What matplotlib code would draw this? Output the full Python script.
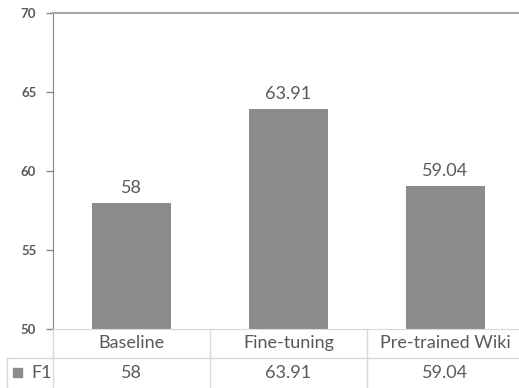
import numpy as np
import matplotlib
matplotlib.use('Agg')
import matplotlib.pyplot as plt
from matplotlib.patches import Rectangle
from matplotlib.transforms import blended_transform_factory

# 数据
categories = ['Baseline', 'Fine-tuning', 'Pre-trained Wiki']
f1_values = [58, 63.91, 59.04]
f1_labels = ['58', '63.91', '59.04']
series_name = 'F1'
y_ticks = [50, 55, 60, 65, 70]

plt.rcParams['font.family'] = ['Lato', 'DejaVu Sans']
text_color = '#595959'
bar_color = '#8c8c8c'
line_color = '#d9d9d9'

W, H = 519, 388
fig = plt.figure(figsize=(W / 100, H / 100), dpi=100)
# 坐标区: 左 53px, 顶 13px, 底 329px, 每类 157px
ax = fig.add_axes([53 / W, (H - 329) / H, 471 / W, 316 / H])

x = np.arange(len(categories))
ax.bar(x, f1_values, width=0.5, color=bar_color)
ax.set_xlim(-0.5, len(categories) - 0.5)
ax.set_ylim(50, 70)

# 数据标签
for xi, v, lab in zip(x, f1_values, f1_labels):
    ax.annotate(lab, (xi, v), xytext=(0, 5), textcoords='offset points',
                ha='center', va='bottom', fontsize=13, color=text_color)

# 坐标轴样式
ax.set_yticks(y_ticks)
ax.set_yticklabels([str(t) for t in y_ticks], fontsize=9.5, fontweight='bold', color=text_color)
ax.tick_params(axis='y', length=5, width=1, color='#868686', pad=7)
ax.set_xticks([])
ax.spines['left'].set_color('#868686')
ax.spines['top'].set_color('#a6a6a6')
ax.spines['top'].set_linewidth(1.5)
ax.spines['right'].set_visible(False)
ax.spines['bottom'].set_color(line_color)

# 数据表
tr = blended_transform_factory(ax.transData, ax.transAxes)
px = 1 / 316  # 一个像素对应的坐标区高度
row1_y = -14 * px
row_line = -29 * px
row2_y = -44 * px
bottom = -60 * px

for xi, cat, lab in zip(x, categories, f1_labels):
    ax.text(xi, row1_y, cat, transform=tr, ha='center', va='center',
            fontsize=13, color=text_color)
    ax.text(xi, row2_y, lab, transform=tr, ha='center', va='center',
            fontsize=13, color=text_color)

left_x = -0.5 - 46 / 157
ax.plot([left_x, len(categories)], [row_line, row_line], transform=tr,
        color=line_color, lw=1, clip_on=False)
for b in np.arange(len(categories)) - 0.5:
    ax.plot([b, b], [0, bottom], transform=tr, color=line_color, lw=1, clip_on=False)
ax.plot([left_x, left_x], [row_line, bottom], transform=tr, color=line_color, lw=1, clip_on=False)

# 图例
fig.patches.append(Rectangle((13 / W, (H - 377) / H), 9 / W, 9 / H,
                             transform=fig.transFigure, color=bar_color))
ax.text(-0.5 - 22 / 157, row2_y, series_name, transform=tr, ha='left', va='center',
        fontsize=13, color=text_color)

fig.savefig('out.png', dpi=100)
